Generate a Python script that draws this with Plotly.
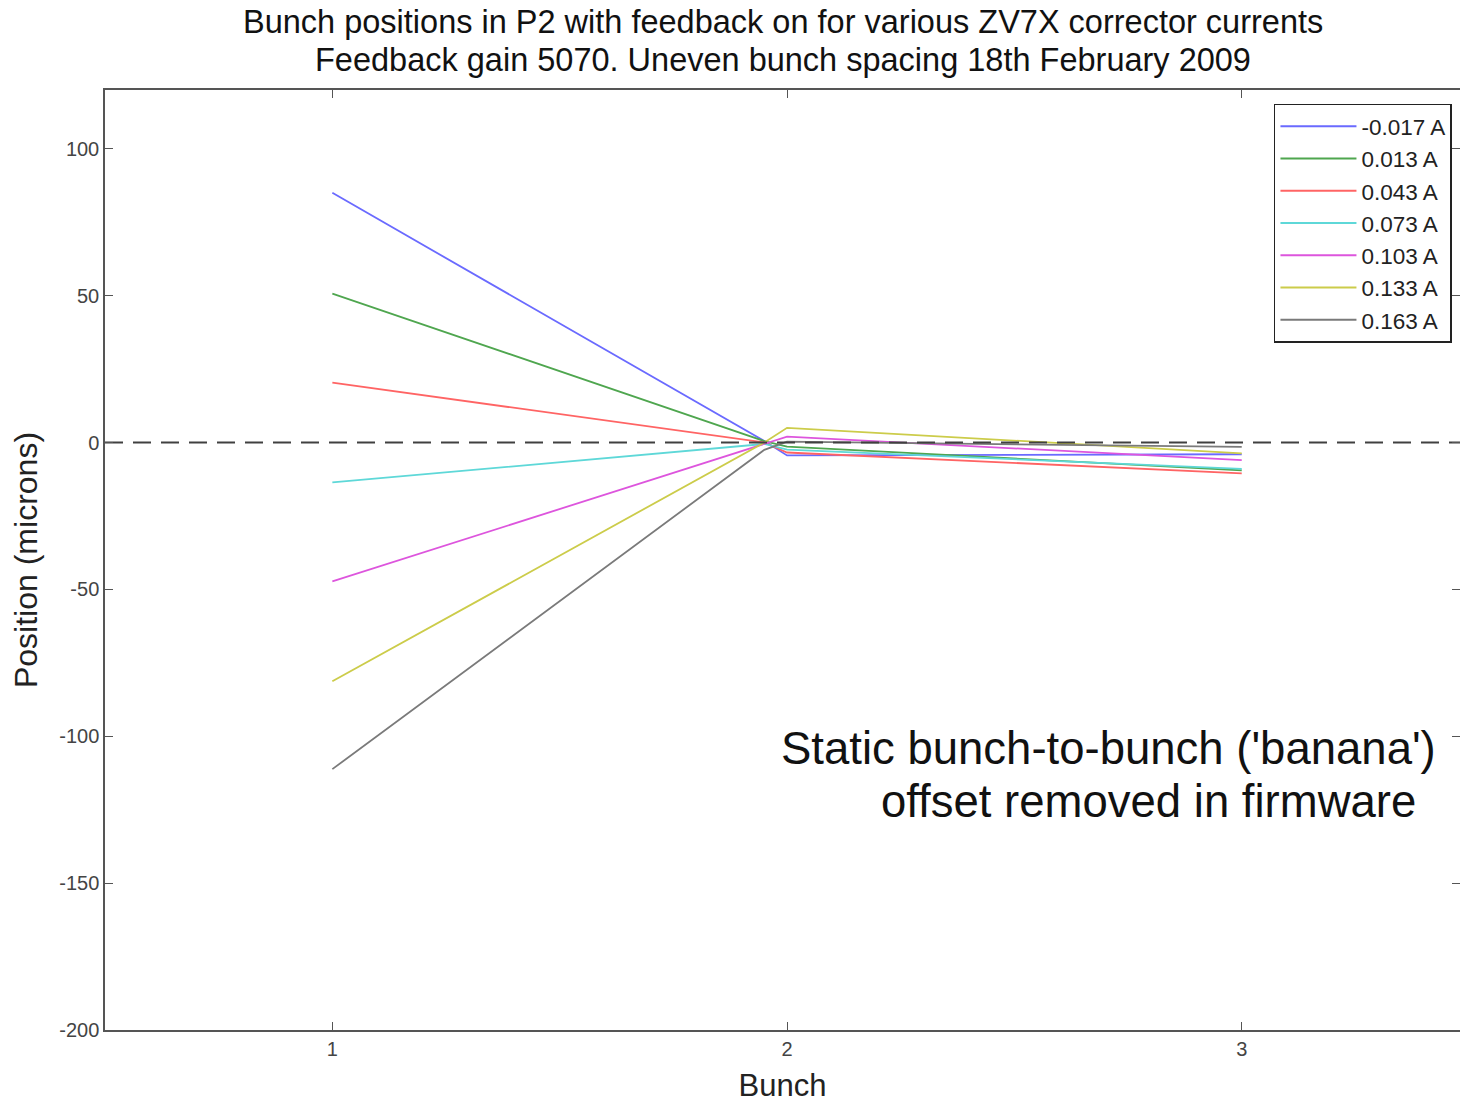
import plotly.graph_objects as go

bunch = [1, 1.95, 2, 3]
labels = ["-0.017 A", "0.013 A", "0.043 A", "0.073 A", "0.103 A", "0.133 A", "0.163 A"]
pos_m0017 = [85.0, 0.5, -4.4, -4.0]
pos_0013 = [50.7, 0.5, -1.4, -9.5]
pos_0043 = [20.4, 0.0, -3.4, -10.5]
pos_0073 = [-13.6, -0.5, -2.4, -9.0]
pos_0103 = [-47.3, -0.5, 2.0, -6.0]
pos_0133 = [-81.3, 0.0, 5.0, -3.7]
pos_0163 = [-111.2, -2.5, 0.3, -1.5]
series = [pos_m0017, pos_0013, pos_0043, pos_0073, pos_0103, pos_0133, pos_0163]
colors = ["#6a6aff", "#4fa64f", "#ff6464", "#5ed8d8", "#dd55dd", "#cccc4a", "#7a7a7a"]
ytick_vals = [-200, -150, -100, -50, 0, 50, 100]
ytick_text = ["-200", "-150", "-100", "-50", "0", "50", "100"]

fig = go.Figure()
for lab, ys, c in zip(labels, series, colors):
    fig.add_trace(go.Scatter(x=bunch, y=ys, mode="lines", name=lab,
                             line=dict(color=c, width=1.8)))

# zero reference line
fig.add_trace(go.Scatter(x=[0.5, 3.48], y=[0, 0], mode="lines", showlegend=False,
                         line=dict(color="#404040", width=1.8, dash="18px,10px")))

font_family = "Liberation Sans, Arial, sans-serif"
fig.update_layout(
    width=1460, height=1104,
    paper_bgcolor="white", plot_bgcolor="white",
    margin=dict(l=105, r=0, t=90, b=74),
    font=dict(family=font_family),
    showlegend=True,
    legend=dict(x=0.8627, y=0.9855, xanchor="left", yanchor="top",
                bgcolor="white", bordercolor="#222222", borderwidth=1.5,
                font=dict(family=font_family, size=22.5, color="#222222"),
                tracegroupgap=0, itemwidth=76),
)
fig.update_xaxes(range=[0.5, 3.48], tickvals=[1, 2, 3], ticktext=["1", "2", "3"],
                 ticks="inside", ticklen=8, tickcolor="#555555", mirror="ticks",
                 showline=True, linecolor="#555555", linewidth=1.5, showgrid=False,
                 zeroline=False, tickfont=dict(size=20, color="#444444"), automargin=False,
                 title=dict(text="Bunch", font=dict(size=31, color="#222222"), standoff=16))
fig.update_yaxes(range=[-200, 120], tickvals=ytick_vals, ticktext=ytick_text,
                 ticks="inside", ticklen=8, tickcolor="#555555", mirror="ticks",
                 showline=True, linecolor="#555555", linewidth=1.5, showgrid=False,
                 zeroline=False, tickfont=dict(size=20, color="#444444"), automargin=False,
                 title=dict(text="Position (microns)", font=dict(size=32, color="#222222"), standoff=12))

fig.add_annotation(text="Bunch positions in P2 with feedback on for various ZV7X corrector currents",
                   xref="paper", yref="paper", x=0.5, y=1.0723, xanchor="center", yanchor="middle",
                   showarrow=False, font=dict(family=font_family, size=32.5, color="#111111"))
fig.add_annotation(text="Feedback gain 5070. Uneven bunch spacing 18th February 2009",
                   xref="paper", yref="paper", x=0.5, y=1.0319, xanchor="center", yanchor="middle",
                   showarrow=False, font=dict(family=font_family, size=32.5, color="#111111"))

fig.add_annotation(text="Static bunch-to-bunch ('banana')", xref="paper", yref="paper",
                   x=0.9838, y=0.300, xanchor="right", yanchor="middle", showarrow=False,
                   font=dict(family=font_family, size=45.5, color="#111111"))
fig.add_annotation(text="offset removed in firmware", xref="paper", yref="paper",
                   x=0.9690, y=0.2436, xanchor="right", yanchor="middle", showarrow=False,
                   font=dict(family=font_family, size=45.5, color="#111111"))

fig.write_html("out.html", config={"displayModeBar": False},
               post_script="document.body.style.margin='0';document.body.style.overflow='hidden';")
